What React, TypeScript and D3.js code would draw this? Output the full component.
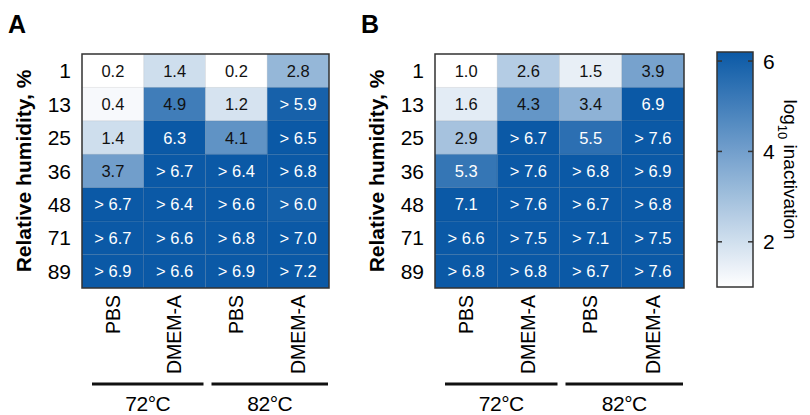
import React from 'react';
import * as d3 from 'd3';

// humidity rows and condition columns
const humidity = ['1', '13', '25', '36', '48', '71', '89'];
const media = ['PBS', 'DMEM-A', 'PBS', 'DMEM-A'];
const temps = ['72°C', '82°C'];

// cell labels, ">" means lower bound (detection limit)
const panelA = [
  ['0.2', '1.4', '0.2', '2.8'],
  ['0.4', '4.9', '1.2', '>5.9'],
  ['1.4', '6.3', '4.1', '>6.5'],
  ['3.7', '>6.7', '>6.4', '>6.8'],
  ['>6.7', '>6.4', '>6.6', '>6.0'],
  ['>6.7', '>6.6', '>6.8', '>7.0'],
  ['>6.9', '>6.6', '>6.9', '>7.2'],
];

const panelB = [
  ['1.0', '2.6', '1.5', '3.9'],
  ['1.6', '4.3', '3.4', '6.9'],
  ['2.9', '>6.7', '5.5', '>7.6'],
  ['5.3', '>7.6', '>6.8', '>6.9'],
  ['7.1', '>7.6', '>6.7', '>6.8'],
  ['>6.6', '>7.5', '>7.1', '>7.5'],
  ['>6.8', '>6.8', '>6.7', '>7.6'],
];

const colorbarTicks = [2, 4, 6];
const colorMax = 6.2;

const FONT = 'Liberation Sans, Arial, sans-serif';
const DARK = '#0b59a6';

const top = 54;
const bottom = 288;

type PanelProps = {
  letter: string;
  cells: string[][];
  x0: number;
  x1: number;
  vmin: number;
};

const Panel = ({ letter, cells, x0, x1, vmin }: PanelProps) => {
  const x = d3.scaleBand<number>().domain(d3.range(media.length)).range([x0, x1]);
  const y = d3.scaleBand<number>().domain(d3.range(humidity.length)).range([top, bottom]);
  const color = d3.scaleLinear<string>().domain([vmin, colorMax]).range(['#ffffff', DARK]).clamp(true);
  const groups = d3.range(temps.length).map(g => {
    const s = x(g * 2)!;
    const e = x(g * 2 + 1)! + x.bandwidth();
    return { s: s + (g === 0 ? 10 : 6), e: e - (g === 0 ? 2 : 1) };
  });

  return (
    <g>
      <text x={x0 - 74} y={33} fontSize={25} fontWeight="bold" fontFamily={FONT}>{letter}</text>
      <text
        transform={`translate(${x0 - 58},${(top + bottom) / 2}) rotate(-90)`}
        textAnchor="middle"
        dy="0.35em"
        fontSize={21}
        fontWeight="bold"
        fontFamily={FONT}
      >
        Relative humidity, %
      </text>
      {humidity.map((h, i) => (
        <text key={h} x={x0 - 11} y={y(i)! + y.bandwidth() / 2} dy="0.36em" textAnchor="end" fontSize={21} fontFamily={FONT}>
          {h}
        </text>
      ))}
      {cells.map((row, i) =>
        row.map((lab, j) => {
          const v = parseFloat(lab.replace('>', ''));
          const txt = lab.startsWith('>') ? '> ' + lab.slice(1) : lab;
          return (
            <g key={`${i}-${j}`}>
              <rect
                x={x(j)}
                y={y(i)}
                width={x.bandwidth()}
                height={y.bandwidth()}
                fill={color(v)}
                stroke="rgba(0,0,0,0.05)"
                strokeWidth={1}
              />
              <text
                x={x(j)! + x.bandwidth() / 2}
                y={y(i)! + y.bandwidth() / 2}
                dy="0.36em"
                textAnchor="middle"
                fontSize={16.5}
                fontFamily={FONT}
                fill={v >= 5 ? '#ffffff' : '#111111'}
              >
                {txt}
              </text>
            </g>
          );
        })
      )}
      <rect x={x0} y={top} width={x1 - x0} height={bottom - top} fill="none" stroke="#333" strokeWidth={1.5} />
      {media.map((m, j) => (
        <text
          key={j}
          transform={`translate(${x(j)! + x.bandwidth() / 2},${bottom + 7}) rotate(-90)`}
          dy="0.35em"
          textAnchor="end"
          fontSize={19.5}
          fontFamily={FONT}
        >
          {m}
        </text>
      ))}
      {groups.map((g, k) => (
        <g key={k}>
          <line x1={g.s} x2={g.e} y1={384} y2={384} stroke="#111" strokeWidth={3} />
          <text x={(g.s + g.e) / 2} y={411} textAnchor="middle" fontSize={21} fontFamily={FONT} letterSpacing={-0.5}>
            {temps[k]}
          </text>
        </g>
      ))}
    </g>
  );
};

const Colorbar = () => {
  const cx0 = 717;
  const cx1 = 753;
  const cy = d3.scaleLinear().domain([1, colorMax]).range([287, 52]);
  const color = d3.scaleLinear<string>().domain([1, colorMax]).range(['#ffffff', DARK]);
  const stops = d3.range(0, 1.0001, 0.1);
  return (
    <g>
      <defs>
        <linearGradient id="cbar" x1="0" y1="1" x2="0" y2="0">
          {stops.map(t => (
            <stop key={t} offset={t} stopColor={color(1 + t * (colorMax - 1))} />
          ))}
        </linearGradient>
      </defs>
      <rect x={cx0} y={cy(colorMax)} width={cx1 - cx0} height={cy(1) - cy(colorMax)} fill="url(#cbar)" stroke="#333" strokeWidth={1.5} />
      {colorbarTicks.map(t => (
        <g key={t}>
          <line x1={cx0} x2={cx0 + 5} y1={cy(t)} y2={cy(t)} stroke="#333" strokeWidth={1.5} />
          <line x1={cx1 - 5} x2={cx1} y1={cy(t)} y2={cy(t)} stroke="#333" strokeWidth={1.5} />
          <text x={cx1 + 10} y={cy(t)} dy="0.36em" fontSize={21} fontFamily={FONT}>{t}</text>
        </g>
      ))}
      <text
        transform={`translate(791,${(cy(1) + cy(colorMax)) / 2}) rotate(90)`}
        textAnchor="middle"
        dy="0.35em"
        fontSize={19}
        fontFamily={FONT}
      >
        log<tspan fontSize={13} dy="6">10</tspan><tspan dy="-6"> inactivation</tspan>
      </text>
    </g>
  );
};

export default function App() {
  return (
    <svg width={810} height={415} style={{ position: 'absolute', left: 0, top: 0, background: '#fff' }}>
      <Panel letter="A" cells={panelA} x0={82} x1={329} vmin={0.2} />
      <Panel letter="B" cells={panelB} x0={435} x1={684} vmin={1.0} />
      <Colorbar />
    </svg>
  );
}
